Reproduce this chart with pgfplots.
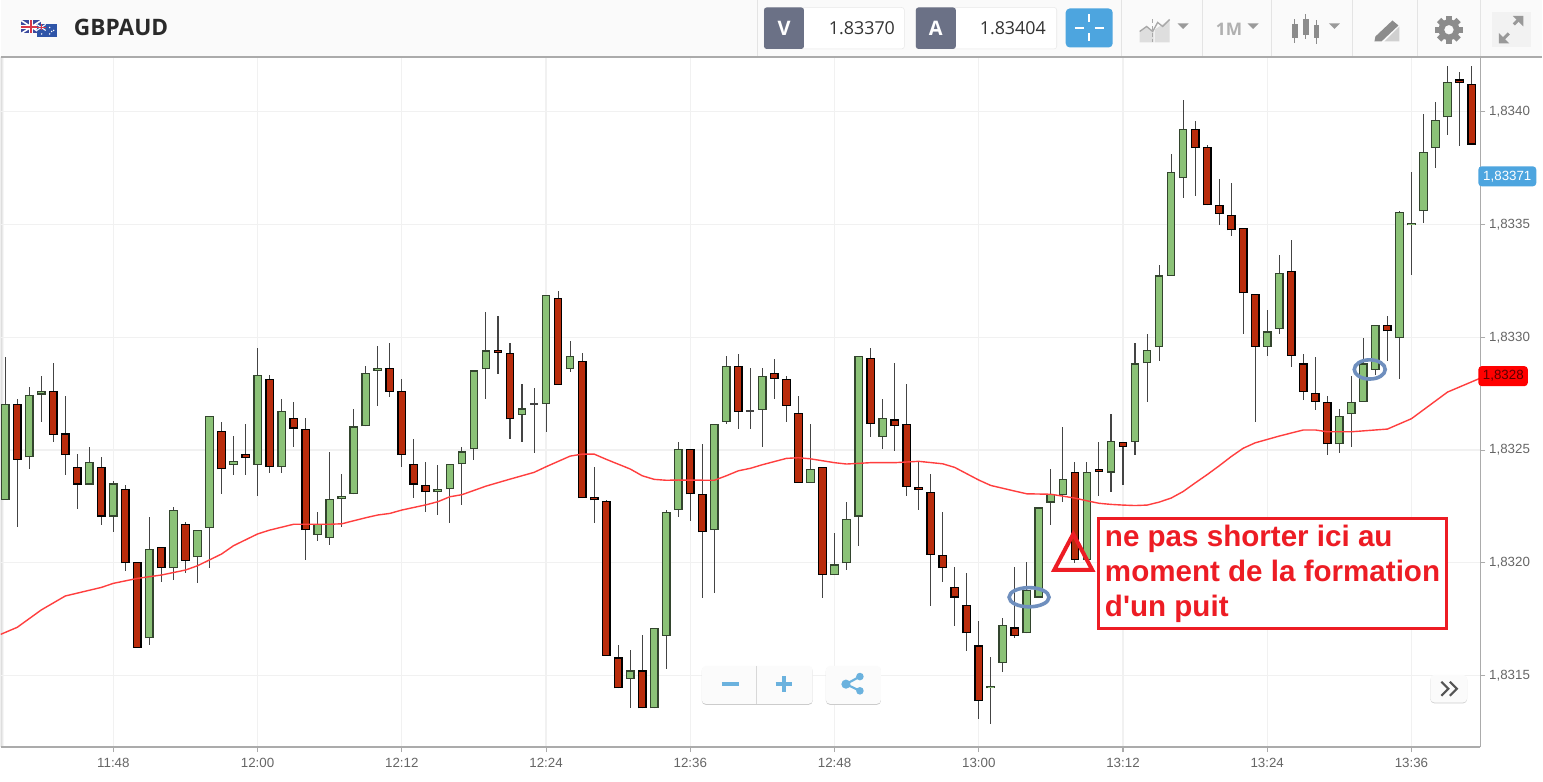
\documentclass[border=0pt]{standalone}
\usepackage{fontspec}
\usepackage{pgfplots}
\usepackage{pgfplotstable}
\pgfplotsset{compat=1.18}
\setmainfont{Liberation Sans}
\newfontfamily\os{Open Sans}
\definecolor{cgreen}{HTML}{8BC277}
\definecolor{cgreenb}{HTML}{33452E}
\definecolor{cred}{HTML}{B92C0C}
\definecolor{cwick}{HTML}{444444}
\definecolor{cgrid}{HTML}{F1F1F1}
\definecolor{caxis}{HTML}{ABABAB}
\definecolor{ctext}{HTML}{666666}
\definecolor{cma}{HTML}{FF3E3E}
\definecolor{cann}{HTML}{ED1C24}
\definecolor{cell}{HTML}{6F8FBE}
\definecolor{cblue}{HTML}{4DA5DF}
\definecolor{cbtn}{HTML}{6BB2DE}
\definecolor{cicon}{HTML}{8C8C8C}
\definecolor{cdark}{HTML}{6B7186}
\definecolor{csep}{HTML}{E4E4E4}
\definecolor{chead}{HTML}{FAFAFA}
\definecolor{cuk}{HTML}{3B4A9E}
\definecolor{cfr}{HTML}{D9394A}
\definecolor{cau}{HTML}{2F55A8}
\definecolor{ctitle}{HTML}{2A2A2A}
\definecolor{cbox}{HTML}{E8E8E8}
\definecolor{cval}{HTML}{333333}
\definecolor{cicA}{HTML}{DEDEDE}
\definecolor{cicB}{HTML}{A8A8A8}
\definecolor{ccar}{HTML}{9A9A9A}
\definecolor{cmm}{HTML}{B0B0B0}
\definecolor{cicC}{HTML}{D0D0D0}
\definecolor{cexp}{HTML}{F2F2F2}
\definecolor{cexa}{HTML}{999999}
\definecolor{ctag}{HTML}{FF0000}
\definecolor{ctagt}{HTML}{5A0000}
\definecolor{cshadow}{HTML}{CCCCCC}
\definecolor{cbg}{HTML}{FBFBFB}
\definecolor{cdiv}{HTML}{D8D8D8}
\definecolor{cchev}{HTML}{555555}

\pgfplotstableread{
m hi top bot lo
-9 1.832914 1.832704 1.832279 1.832279
-7 1.832781 1.832743 1.832468 1.832414
-6 1.832830 1.832763 1.832746 1.832626
-2 1.832515 1.832447 1.832347 1.832347
0 1.832361 1.832352 1.832205 1.832135
3 1.832202 1.832063 1.831665 1.831634
5 1.832249 1.832236 1.831977 1.831924
7 1.832147 1.832147 1.832024 1.831909
8 1.832652 1.832652 1.832156 1.831977
10 1.832562 1.832453 1.832435 1.832388
12 1.832951 1.832833 1.832435 1.832298
14 1.832725 1.832675 1.832426 1.832400
17 1.832224 1.832172 1.832125 1.832098
18 1.832493 1.832283 1.832109 1.832078
19 1.832392 1.832295 1.832281 1.832157
20 1.832684 1.832605 1.832304 1.832304
21 1.832873 1.832843 1.832605 1.832605
22 1.832961 1.832864 1.832852 1.832695
27 1.832434 1.832326 1.832314 1.832213
28 1.832437 1.832437 1.832326 1.832178
29 1.832515 1.832494 1.832437 1.832256
30 1.832853 1.832853 1.832503 1.832456
31 1.833114 1.832942 1.832858 1.832726
34 1.832793 1.832685 1.832657 1.832536
36 1.833186 1.833186 1.832704 1.832579
38 1.832984 1.832916 1.832858 1.832848
43 1.831613 1.831523 1.831486 1.831355
45 1.831712 1.831712 1.831355 1.831355
46 1.832234 1.832225 1.831676 1.831528
47 1.832534 1.832505 1.832234 1.832203
50 1.832616 1.832616 1.832145 1.831865
51 1.832916 1.832874 1.832626 1.832616
54 1.832862 1.832827 1.832679 1.832515
58 1.832614 1.832416 1.832355 1.832355
60 1.832134 1.831993 1.831945 1.831945
61 1.832271 1.832194 1.831998 1.831967
62 1.832917 1.832917 1.832205 1.832076
64 1.832725 1.832642 1.832558 1.832505
73 1.831581 1.831455 1.831443 1.831285
74 1.831754 1.831723 1.831556 1.831517
76 1.832002 1.831879 1.831687 1.831687
77 1.832246 1.832246 1.831846 1.831846
78 1.832415 1.832304 1.832267 1.832168
79 1.832604 1.832372 1.832299 1.832268
81 1.832449 1.832404 1.832013 1.832013
83 1.832660 1.832542 1.832400 1.832316
85 1.832973 1.832884 1.832535 1.832476
86 1.833014 1.832942 1.832884 1.832714
87 1.833320 1.833274 1.832958 1.832894
88 1.833811 1.833734 1.833273 1.833273
89 1.834052 1.833923 1.833706 1.833617
96 1.833120 1.833026 1.832958 1.832917
97 1.833363 1.833285 1.833038 1.833014
102 1.832682 1.832652 1.832525 1.832488
103 1.832829 1.832714 1.832658 1.832515
104 1.832995 1.832884 1.832714 1.832714
105 1.833053 1.833053 1.832856 1.832832
107 1.833561 1.833554 1.832995 1.832815
108 1.833731 1.833508 1.833496 1.833274
109 1.833988 1.833823 1.833558 1.833505
110 1.834041 1.833964 1.833839 1.833749
111 1.834201 1.834133 1.833975 1.833898
}\upcandles

\pgfplotstableread{
m hi top bot lo
-8 1.832725 1.832704 1.832456 1.832157
-5 1.832884 1.832763 1.832567 1.832534
-4 1.832741 1.832574 1.832478 1.832388
-3 1.832482 1.832426 1.832347 1.832237
-1 1.832471 1.832426 1.832205 1.832166
1 1.832345 1.832326 1.831998 1.831965
2 1.832004 1.832004 1.831624 1.831624
4 1.832072 1.832072 1.831977 1.831913
6 1.832181 1.832172 1.832008 1.831956
9 1.832626 1.832584 1.832414 1.832304
11 1.832614 1.832484 1.832466 1.832388
13 1.832831 1.832817 1.832426 1.832400
15 1.832715 1.832642 1.832595 1.832515
16 1.832641 1.832595 1.832145 1.832014
23 1.832973 1.832864 1.832759 1.832737
24 1.832814 1.832763 1.832478 1.832426
25 1.832550 1.832437 1.832347 1.832287
26 1.832449 1.832347 1.832314 1.832225
32 1.833094 1.832944 1.832932 1.832836
33 1.832973 1.832932 1.832636 1.832548
37 1.833204 1.833174 1.832788 1.832788
39 1.832932 1.832895 1.832287 1.832287
40 1.832423 1.832293 1.832277 1.832177
41 1.832280 1.832273 1.831587 1.831587
42 1.831634 1.831581 1.831443 1.831443
44 1.831681 1.831523 1.831355 1.831355
48 1.832505 1.832505 1.832304 1.832187
49 1.832525 1.832304 1.832135 1.831845
52 1.832926 1.832874 1.832669 1.832593
55 1.832904 1.832843 1.832815 1.832725
56 1.832830 1.832815 1.832695 1.832626
57 1.832741 1.832663 1.832355 1.832355
59 1.832425 1.832425 1.831945 1.831846
63 1.832951 1.832907 1.832616 1.832556
65 1.832885 1.832636 1.832605 1.832494
66 1.832793 1.832616 1.832336 1.832298
67 1.832449 1.832336 1.832324 1.832236
68 1.832392 1.832314 1.832035 1.831809
69 1.832224 1.832035 1.831977 1.831914
70 1.831980 1.831893 1.831846 1.831720
71 1.831955 1.831813 1.831687 1.831608
72 1.831744 1.831634 1.831387 1.831308
75 1.831980 1.831714 1.831677 1.831665
80 1.832449 1.832404 1.832014 1.831998
82 1.832534 1.832415 1.832404 1.832298
84 1.832537 1.832535 1.832515 1.832345
90 1.833961 1.833923 1.833839 1.833627
91 1.833852 1.833845 1.833585 1.833585
92 1.833700 1.833586 1.833548 1.833496
93 1.833685 1.833543 1.833474 1.833449
94 1.833486 1.833486 1.833194 1.833014
95 1.833194 1.833194 1.832958 1.832625
98 1.833431 1.833295 1.832917 1.832868
99 1.832928 1.832884 1.832757 1.832724
100 1.832914 1.832752 1.832714 1.832677
101 1.832741 1.832714 1.832525 1.832478
106 1.833094 1.833053 1.833026 1.832894
112 1.834174 1.834143 1.834128 1.833849
113 1.834201 1.834123 1.833854 1.833854
}\downcandles

\pgfplotstableread{
m hi mid lo
35 1.832774 1.832704 1.832488
53 1.832862 1.832673 1.832593
}\flatcandles

\pgfplotstableread{
m ma
-9.37 1.831683
-8 1.831714
-6 1.831791
-4 1.831853
-1 1.831891
0 1.831909
2 1.831931
4 1.831946
6 1.831968
7 1.831987
9 1.832039
10 1.832076
12 1.832128
13 1.832145
15 1.832171
18 1.832171
19 1.832173
21 1.832200
22 1.832212
23 1.832219
24 1.832234
26 1.832257
27 1.832271
28 1.832293
29 1.832302
31 1.832340
33 1.832371
35 1.832401
36 1.832426
38 1.832473
39 1.832482
40 1.832482
41 1.832459
43 1.832416
44 1.832386
45 1.832370
46 1.832366
47 1.832367
50 1.832366
51 1.832386
52 1.832408
53 1.832419
54 1.832435
56 1.832463
57 1.832466
58 1.832461
60 1.832444
61 1.832438
63 1.832444
65 1.832444
67 1.832450
69 1.832439
70 1.832423
72 1.832367
73 1.832343
75 1.832318
76 1.832306
78 1.832304
80 1.832287
81 1.832275
82 1.832264
83 1.832259
84 1.832256
85 1.832254
86 1.832256
87 1.832269
88 1.832287
89 1.832316
90 1.832354
91 1.832391
92 1.832430
93 1.832471
94 1.832508
95 1.832532
97 1.832562
99 1.832589
100 1.832589
101 1.832581
103 1.832581
106 1.832593
108 1.832639
111 1.832757
113.7 1.832818
}\matable

\pgfplotsset{
  wickbar/.style={draw=none, mark=none, forget plot,
    error bars/.cd, y dir=both, y explicit, error mark=none,
    error bar style={cwick, line width=0.8pt}},
  bodybar/.style 2 args={draw=none, mark=none, forget plot,
    error bars/.cd, y dir=plus, y explicit, error mark=none,
    error bar style={#1, line width=#2}},
}
\newcommand{\candles}[3]{%
  \addplot[wickbar] table[x=m, y=bot,
    y error plus expr=\thisrow{hi}-\thisrow{bot},
    y error minus expr=\thisrow{bot}-\thisrow{lo}] {#1};
  \addplot[bodybar={#3}{6.6pt}] table[x=m, y=bot,
    y error plus expr=\thisrow{top}-\thisrow{bot}] {#1};
  \addplot[bodybar={#2}{4.6pt}] table[x=m,
    y expr=\thisrow{bot}+0.0000050,
    y error plus expr=\thisrow{top}-\thisrow{bot}-0.0000100] {#1};
}

\begin{document}
\begin{tikzpicture}
\begin{scope}[x=0.75pt,y=-0.75pt,yshift=586.5pt]
  \path[use as bounding box, fill=white] (0,0) rectangle (1543,782);
  \fill[left color=black!14,right color=white] (0,57) rectangle (3,747);
\end{scope}

\begin{axis}[
  at={(0pt,26.0pt)}, anchor=south west,
  scale only axis, width=1110.75pt, height=518.0pt,
  xmin=-9.37, xmax=113.73, ymin=1.831183, ymax=1.834242,
  axis x line=bottom, axis y line=right,
  axis line style={-, caxis, line width=1.1pt},
  tick style={caxis, line width=0.8pt},
  tick align=outside, major tick length=3.8pt,
  grid=major, major grid style={cgrid, line width=1pt},
  xtick={0,12,24,36,48,60,72,84,96,108},
  xticklabels={11:48,12:00,12:12,12:24,12:36,12:48,13:00,13:12,13:24,13:36},
  ytick={1.8315,1.8320,1.8325,1.8330,1.8335,1.8340},
  yticklabels={{1,8315},{1,8320},{1,8325},{1,8330},{1,8335},{1,8340}},
  scaled y ticks=false,
  ticklabel style={font=\fontsize{10}{12}\selectfont, text=ctext},
  xticklabel style={yshift=-1pt},
  yticklabel style={xshift=-0.7pt},
  clip=true,
]
\candles{\upcandles}{cgreen}{cgreenb}
\candles{\downcandles}{cred}{black}
\addplot[wickbar] table[x=m, y=mid,
  y error plus expr=\thisrow{hi}-\thisrow{mid},
  y error minus expr=\thisrow{mid}-\thisrow{lo}] {\flatcandles};
\addplot[draw=none, mark=none, forget plot,
  error bars/.cd, x dir=both, x fixed=0.33, error mark=none,
  error bar style={cwick, line width=0.8pt}] table[x=m, y=mid] {\flatcandles};
\addplot[cma, line width=1.05pt, forget plot] table[x=m, y=ma] {\matable};
\end{axis}

\begin{scope}[x=0.75pt,y=-0.75pt,yshift=586.5pt]
  % header
  \fill[chead] (0,0) rectangle (1543,56);
  \draw[caxis, line width=1.1pt] (0,56.5) -- (1543,56.5);
  \foreach \xx in {757.5,1122,1203,1272,1353,1418,1481}
    \draw[csep, line width=0.75pt] (\xx,0) -- (\xx,56);
  % flags
  \fill[cuk] (20.5,20) rectangle (40.5,33);
  \draw[white, line width=1.2pt] (20.5,20) -- (40.5,33) (20.5,33) -- (40.5,20);
  \draw[white, line width=2.6pt] (30.5,20) -- (30.5,33) (20.5,26.5) -- (40.5,26.5);
  \draw[cfr, line width=1.4pt] (30.5,20) -- (30.5,33) (20.5,26.5) -- (40.5,26.5);
  \fill[cau] (36,24) rectangle (56.5,37);
  \draw[white, line width=0.8pt] (36,24) -- (45,30) (36,30) -- (45,24);
  \draw[cfr, line width=0.6pt] (40.5,24) -- (40.5,30) (36,27) -- (45,27);
  \foreach \p in {(41,33.5),(49,27),(53,30),(49,33.5),(51,31)} \fill[white] \p circle (0.8);
  \node[anchor=base west, inner sep=0, font=\os\bfseries\fontsize{17}{18}\selectfont, text=ctitle] at (73,35) {GBPAUD};
  % V and A
  \fill[white, rounded corners=2] (764,7) rectangle (904.5,48.5);
  \draw[cbox, rounded corners=2] (764,7) rectangle (904.5,48.5);
  \fill[cdark, rounded corners=2] (764,7) rectangle (804,48.5);
  \node[font=\os\bfseries\fontsize{15}{17}\selectfont, text=white] at (784,27.5) {V};
  \node[font=\os\fontsize{13.4}{16}\selectfont, text=cval] at (862,28) {1.83370};
  \fill[white, rounded corners=2] (916,7) rectangle (1057,48.5);
  \draw[cbox, rounded corners=2] (916,7) rectangle (1057,48.5);
  \fill[cdark, rounded corners=2] (916,7) rectangle (956,48.5);
  \node[font=\os\bfseries\fontsize{15}{17}\selectfont, text=white] at (936,27.5) {A};
  \node[font=\os\fontsize{13.4}{16}\selectfont, text=cval] at (1013,28) {1.83404};
  % crosshair button
  \fill[cblue, rounded corners=3] (1066,8) rectangle (1113,47);
  \draw[white, line width=1.2pt] (1075,27.5) -- (1084,27.5) (1095,27.5) -- (1104,27.5)
     (1089.5,14) -- (1089.5,22) (1089.5,33) -- (1089.5,41);
  % chart type icon
  \fill[cicA] (1140,42) -- (1140,31) -- (1147,26) -- (1154,31) -- (1154,42) -- cycle;
  \fill[cicA] (1155,42) -- (1155,29) -- (1163,24) -- (1170,19) -- (1170,42) -- cycle;
  \draw[cicB, line width=1pt] (1140,31) -- (1147,26) -- (1153,31) -- (1158,22) -- (1163,26) -- (1170,19);
  \draw[cicB, line width=0.8pt, densely dashed] (1153,19) -- (1153,42);
  \foreach \cx in {1183.5,1253.5,1335}
    \fill[ccar] (\cx-5.5,23) -- (\cx+5.5,23) -- (\cx,28.5) -- cycle;
  \node[anchor=center, font=\os\bfseries\fontsize{13}{15}\selectfont, text=cmm] at (1229.5,29) {1M};
  % candle icon
  \foreach \cx/\a/\b/\c/\d in {1295/19/24/38/43,1306/14/19/35/39,1317/20/25/38/44}{
    \draw[cicon, line width=1.2pt] (\cx,\a) -- (\cx,\d);
    \fill[cicon] (\cx-3,\b) rectangle (\cx+3,\c);
  }
  % drawing icon
  \fill[cicC] (1385,41) -- (1400,26) -- (1400,41) -- cycle;
  \fill[cicon] (1376,36) -- (1393,20) -- (1399,25) -- (1382,41) -- (1375,41) -- cycle;
  % gear
  \foreach \aa in {0,45,...,315}
    \fill[cicon, rotate around={\aa:(1449.6,29.3)}] (1446.6,15.5) rectangle (1452.6,22);
  \fill[cicon, even odd rule] (1449.6,29.3) circle (10.5) (1449.6,29.3) circle (4.8);
  % expand
  \fill[cexp] (1492.5,11.5) rectangle (1531.5,46.5);
  \draw[cexa, line width=2.2pt] (1503,39.5) -- (1509.5,33) (1514.5,24) -- (1520.5,18);
  \fill[cexa] (1499.5,43) -- (1499.5,32.5) -- (1510,43) -- cycle;
  \fill[cexa] (1524,15.5) -- (1524,26) -- (1513.5,15.5) -- cycle;

  % annotations
  \draw[cell, line width=2.7pt] (1029.3,597.3) ellipse [x radius=20, y radius=9.6];
  \draw[cell, line width=2.7pt] (1370.3,369.3) ellipse [x radius=15.5, y radius=9.6];
  \draw[cann, line width=3pt, line join=miter] (1073.5,534) -- (1092.5,570) -- (1054.5,570) -- cycle;
  \draw[cann, line width=2.2pt, fill=white] (1098.5,518.5) rectangle (1447.5,628.5);
  \begin{scope}[every node/.style={anchor=base west, inner sep=0, text=cann, font=\bfseries\fontsize{22.2}{26}\selectfont}]
    \node at (1105,547) {ne pas shorter ici au};
    \node at (1105,582) {moment de la formation};
    \node at (1105,617) {d\textquotesingle un puit};
  \end{scope}

  % tags
  \fill[cblue, rounded corners=2.5] (1479,166) rectangle (1537,186);
  \node[font=\fontsize{10}{12}\selectfont, text=white] at (1508,176) {1,83371};
  \fill[ctag, rounded corners=2.5] (1479,366) rectangle (1528.5,386);
  \node[font=\fontsize{10}{12}\selectfont, text=ctagt] at (1504,376) {1,8328};

  % bottom controls
  \fill[cshadow, rounded corners=3] (701.7,667) rectangle (812.7,705);
  \fill[cbg, rounded corners=3] (701.7,666) rectangle (812.7,704);
  \draw[cdiv, line width=0.75pt] (756.3,666) -- (756.3,704);
  \draw[cbtn, line width=3pt] (721.7,684.3) -- (738.7,684.3);
  \draw[cbtn, line width=3pt] (775.7,684.3) -- (791.7,684.3) (783.7,676.3) -- (783.7,692.3);
  \fill[cshadow, rounded corners=3] (826,667) rectangle (881,705);
  \fill[cbg, rounded corners=3] (826,666) rectangle (881,704);
  \draw[cbtn, line width=1.6pt] (860,676.7) -- (846,684.3) -- (860,691);
  \fill[cbtn] (846,684.3) circle (4.6) (860,676.7) circle (3.8) (860,691) circle (3.8);
  \fill[cshadow, rounded corners=3] (1431,676) rectangle (1467.7,703.5);
  \fill[cbg, rounded corners=3] (1431,675) rectangle (1467.7,702.7);
  \draw[cchev, line width=1.6pt] (1442,682) -- (1449,689) -- (1442,696) (1450.5,682) -- (1457.5,689) -- (1450.5,696);
\end{scope}
\end{tikzpicture}
\end{document}
